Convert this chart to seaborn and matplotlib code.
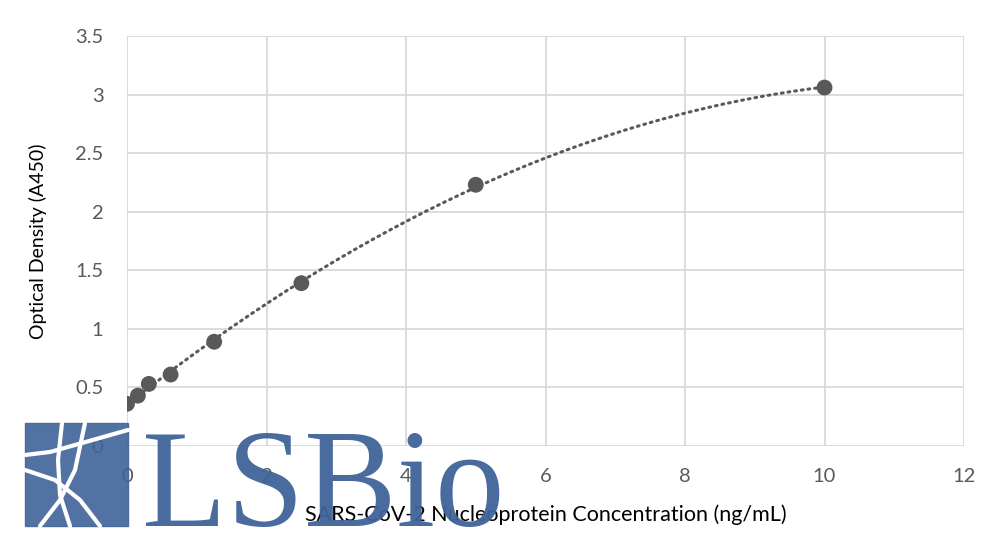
import numpy as np
import pandas as pd
import matplotlib
matplotlib.use("Agg")
import matplotlib.pyplot as plt
import seaborn as sns
from matplotlib.patches import Rectangle
from matplotlib.lines import Line2D

# Data
concentration = [0, 0.156, 0.313, 0.625, 1.25, 2.5, 5, 10]
optical_density = [0.36, 0.43, 0.53, 0.61, 0.89, 1.39, 2.23, 3.06]
x_ticks = [0, 2, 4, 6, 8, 10, 12]
y_ticks = [0, 0.5, 1, 1.5, 2, 2.5, 3, 3.5]
y_tick_labels = ["0", "0.5", "1", "1.5", "2", "2.5", "3", "3.5"]

df = pd.DataFrame({"conc": concentration, "od": optical_density})

sns.set_theme(style="white")
plt.rcParams["font.family"] = ["Lato", "DejaVu Sans"]

fig = plt.figure(figsize=(10.06, 5.42), dpi=100)
ax = fig.add_axes([127/1006, 1 - 446/542, (964-127)/1006, (446-36)/542])

# Polynomial (order 2) trendline from the data
coef = np.polyfit(df["conc"], df["od"], 2)
xs = np.linspace(min(concentration), max(concentration), 200)
trend = pd.DataFrame({"conc": xs, "od": np.polyval(coef, xs)})
sns.lineplot(data=trend, x="conc", y="od", ax=ax, color="#595959",
             linewidth=2.2, linestyle=(0, (0.6, 1.6)),
             dash_capstyle="round", zorder=2)

sns.scatterplot(data=df, x="conc", y="od", ax=ax, color="#595959",
                s=130, edgecolor="none", zorder=3)

ax.set_xlim(0, 12)
ax.set_ylim(0, 3.5)
ax.set_xticks(x_ticks)
ax.set_yticks(y_ticks)
ax.set_yticklabels(y_tick_labels)
ax.grid(True, color="#d9d9d9", linewidth=1.3)
ax.set_axisbelow(True)
for s in ax.spines.values():
    s.set_visible(False)
ax.tick_params(axis="both", colors="#595959", labelsize=14.5, length=0)
ax.tick_params(axis="y", pad=17)
ax.tick_params(axis="x", pad=16)
ax.set_xlabel("SARS-CoV-2 Nucleoprotein Concentration (ng/mL)", fontsize=15.5,
              color="#000000", labelpad=14)
ax.set_ylabel("Optical Density (A450)", fontsize=14, color="#000000", labelpad=20)

# Watermark
blue = "#3f6399"
W, H = 1006, 542
def fx(px): return px / W
def fy(py): return 1 - py / H
fig.patches.append(Rectangle((fx(25), fy(526)), fx(128) - fx(25), (526 - 423) / H,
                             transform=fig.transFigure, color=blue, alpha=0.9, zorder=10))
lines = [
    ([62, 58, 60, 70], [423, 460, 495, 526]),
    ([25, 55, 80, 100], [470, 480, 500, 526]),
    ([25, 50, 75, 128], [455, 452, 445, 430]),
    ([40, 60, 75, 85], [526, 500, 470, 423]),
]
for xsq, ysq in lines:
    fig.add_artist(Line2D([fx(v) for v in xsq], [fy(v) for v in ysq],
                          transform=fig.transFigure, color="white", linewidth=3, zorder=11))
fig.text(fx(142), fy(526), "LSBio", fontsize=100, family="Liberation Serif",
         color=blue, alpha=0.95, ha="left", va="baseline", zorder=10)

fig.savefig("out.png", dpi=100)
